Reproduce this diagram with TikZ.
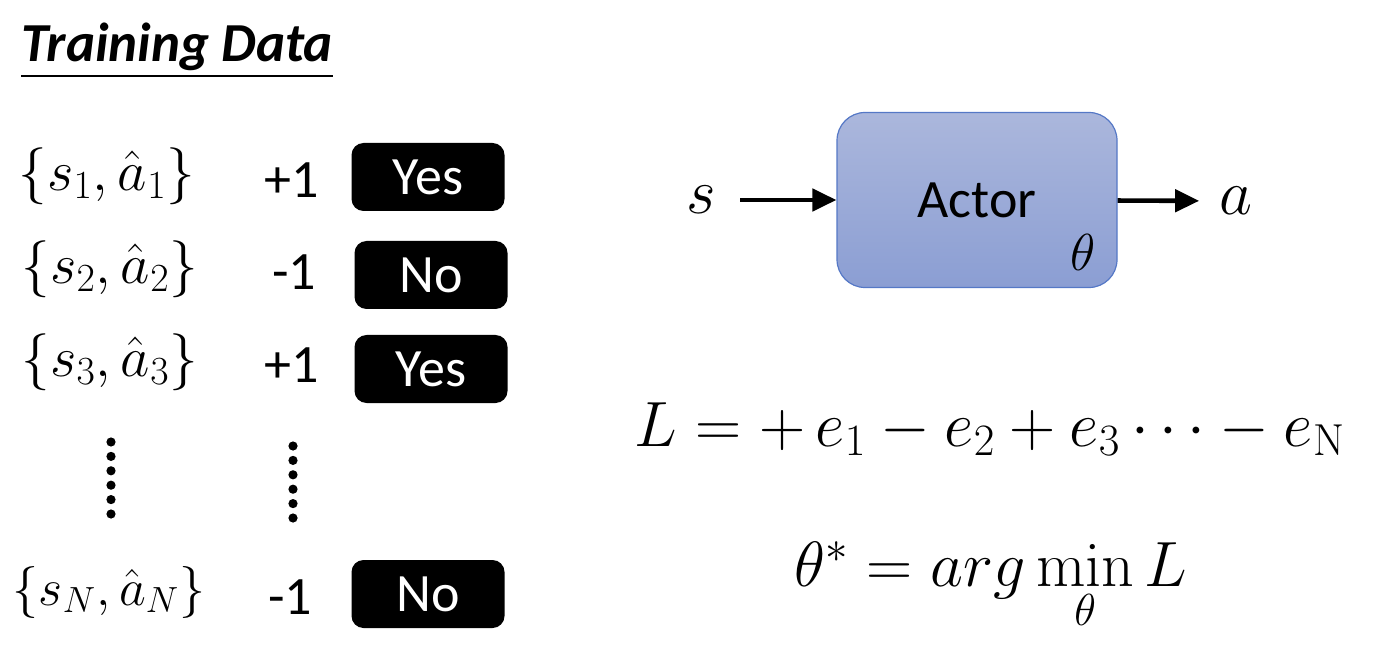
\RequirePackage{fix-cm}
\documentclass[tikz,border=0pt]{standalone}
\usepackage[no-math]{fontspec}
\setmainfont{Carlito}
\usepackage{amsmath}
\usetikzlibrary{arrows.meta, positioning}
\definecolor{actortop}{HTML}{ABB7DC}
\definecolor{actorbot}{HTML}{8B9ED3}
\definecolor{actoredge}{HTML}{5578C6}

\begin{document}
\begin{tikzpicture}[x=0.5pt, y=-0.5pt,
    every node/.style={font=\fontsize{27}{32}\selectfont, inner sep=0pt},
    tag/.style={rectangle, rounded corners=6pt, fill=black, text=white,
      minimum width=76.5pt, minimum height=34pt},
    pair/.style={font=\fontsize{28.5}{34}\selectfont},
    actor/.style={rectangle, rounded corners=14pt, draw=actoredge, line width=0.6pt,
      top color=actortop, bottom color=actorbot, minimum width=140pt, minimum height=87.5pt},
    big/.style={font=\fontsize{32}{38}\selectfont},
    arr/.style={line width=2.3pt, -{Triangle[length=12pt, width=11pt]}}]
    \useasboundingbox (0,0) rectangle (1374,662);
    % training data
    \node[anchor=base west] (title) at (21,62) {\fontsize{27.5}{32}\selectfont\bfseries\itshape Training Data};
    \draw[line width=0.9pt] ([yshift=-7pt]title.base west) -- ([yshift=-7pt]title.base east);
    \node[pair] (d1) at (107,176) {$\{s_1,\hat{a}_1\}$};
    \node (r1) at (292,180) {+1};
    \node[tag] (t1) at (428,177) {Yes};
    \node[pair] (d2) at (110,269) {$\{s_2,\hat{a}_2\}$};
    \node (r2) at (294,272) {-1};
    \node[tag] (t2) at (431,275) {No};
    \node[pair] (d3) at (110,362) {$\{s_3,\hat{a}_3\}$};
    \node (r3) at (292,365) {+1};
    \node[tag] (t3) at (431,369) {Yes};
    \foreach \k in {0,...,5} {
      \fill (111,442+14.4*\k) circle (2.3pt);
      \fill (293,446+14.4*\k) circle (2.3pt);
    }
    \node[pair, font=\fontsize{26}{30}\selectfont] (dn) at (109,592) {$\{s_N,\hat{a}_N\}$};
    \node (rn) at (290,597) {-1};
    \node[tag] (tn) at (428,594) {No};
    % actor
    \node[actor] (act) at (977,200) {Actor};
    \node[font=\fontsize{26}{30}\selectfont] (th) at (1083,252) {$\theta$};
    \node[big] (s) at (701,200) {$s$};
    \node[big] (a) at (1236,201) {$a$};
    \draw[arr, shorten <=12pt] (s) -- (act);
    \draw[arr, shorten >=10pt] (act) -- (a);
    % loss
    \node[big, anchor=base] (loss) at (990,446) {$L = +\,e_1 - e_2 + e_3 \cdots - e_{\mathrm{N}}$};
    \node[big, anchor=base] (opt) at (991,586) {$\theta^* = arg\min\limits_{\theta} L$};
\end{tikzpicture}
\end{document}
